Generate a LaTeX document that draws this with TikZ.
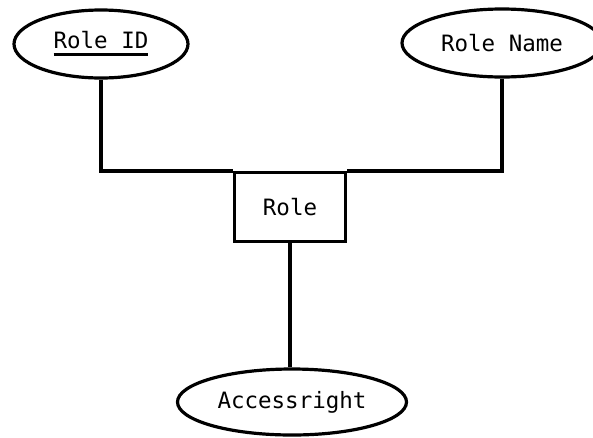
\documentclass[tikz,border=0pt]{standalone}
\usepackage{fontspec}
\setmonofont{DejaVu Sans Mono}
\usepackage{tikz}
\usetikzlibrary{shapes, positioning}

% thick underline for the key attribute
\newcommand{\pkey}[1]{\setbox0\hbox{#1}\rlap{\rule[-7.5pt]{\wd0}{3pt}}\box0}

\begin{document}
\begin{tikzpicture}[x=1pt, y=-1pt,
		font=\fontsize{22.5}{27}\selectfont\ttfamily,
		attr/.style={ellipse, draw, line width=3.2pt, inner sep=0pt},
		entity/.style={rectangle, draw, line width=3.2pt, inner sep=0pt},
		link/.style={line width=3.2pt}]
		\useasboundingbox (0,0) rectangle (593,437);

		% attributes (top)
		\node[attr, minimum width=174pt, minimum height=68pt] (roleid) at (101,44) {\pkey{Role ID}};
		\node[attr, minimum width=200pt, minimum height=68pt] (rolename) at (502,43) {Role Name};

		% entity
		\node[entity, minimum width=111pt, minimum height=69pt] (role) at (290,207) {Role};

		% attribute (bottom)
		\node[attr, minimum width=229pt, minimum height=66pt] (access) at (292,402) {Accessright};

		% connections
		\draw[link] (roleid.south) |- (role.north west);
		\draw[link] (rolename.south) |- (role.north east);
		\draw[link] (role.south) -- (role.south |- access.north);
	\end{tikzpicture}
\end{document}
